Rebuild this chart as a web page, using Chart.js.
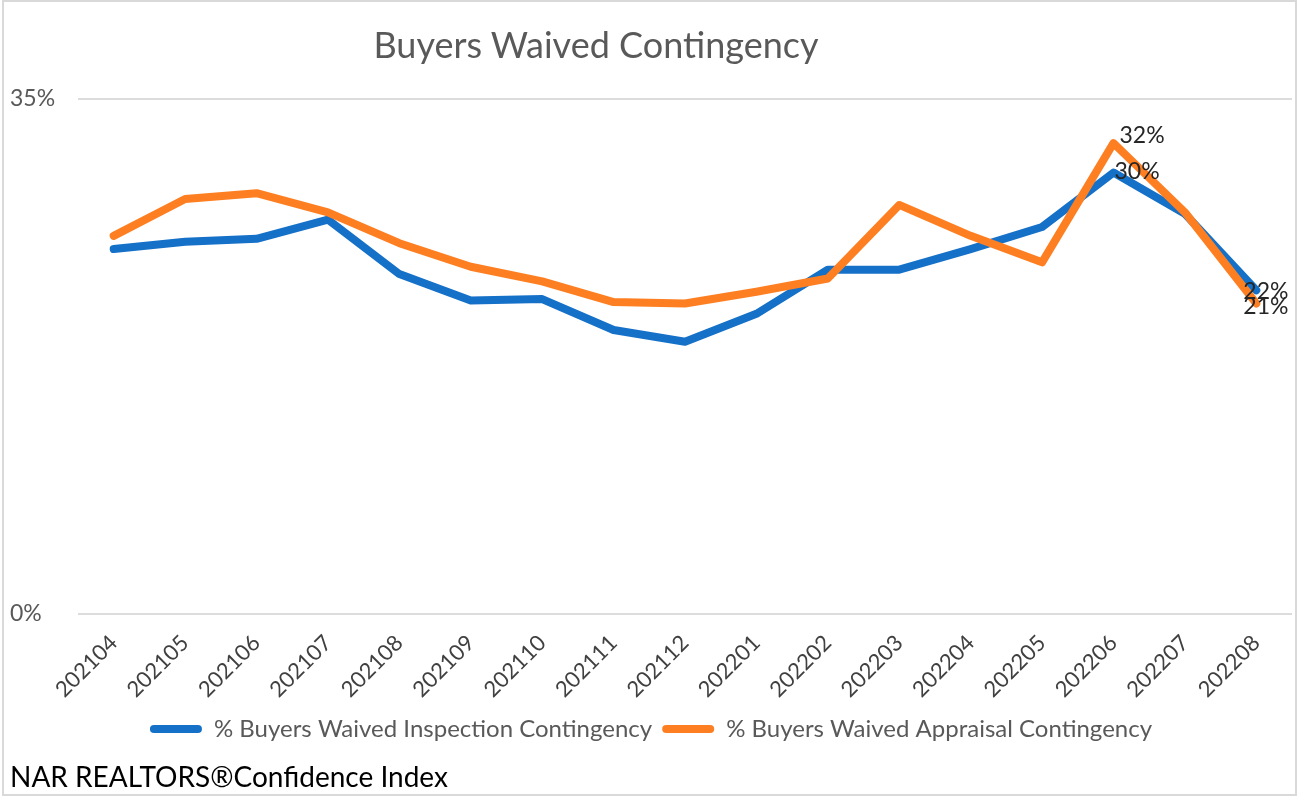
<!DOCTYPE html>
<html>
<head>
<meta charset="utf-8">
<title>Buyers Waived Contingency</title>
<script src="https://cdn.jsdelivr.net/npm/chart.js@4.4.1/dist/chart.umd.min.js"></script>
<style>
  html, body { margin: 0; padding: 0; background: #fff; }
  #wrap { position: relative; width: 1300px; height: 798px; overflow: hidden; }
  #frame {
    position: absolute; left: 2px; top: 0; width: 1295px; height: 796px;
    border: 2px solid #d9d9d9; box-sizing: border-box; pointer-events: none;
  }
  #title {
    position: absolute; top: 22px; left: 0; width: 1192px; text-align: center;
    font: 36px Lato, sans-serif; color: #595959;
  }
  #source {
    position: absolute; left: 10px; top: 759px;
    font: 28px Lato, sans-serif; color: #000;
  }
</style>
</head>
<body>
<div id="wrap">
  <canvas id="chart" width="1300" height="798"></canvas>
  <div id="title">Buyers Waived Contingency</div>
  <div id="source">NAR REALTORS®Confidence Index</div>
  <div id="frame"></div>
</div>
<script>
// ===============================
// DATA
// ===============================
const months = ['202104', '202105', '202106', '202107', '202108', '202109',
  '202110', '202111', '202112', '202201', '202202', '202203', '202204',
  '202205', '202206', '202207', '202208'];

// % Buyers Waived Inspection Contingency
const inspection = [24.8, 25.3, 25.5, 26.8, 23.1, 21.3, 21.4, 19.3, 18.5,
  20.4, 23.4, 23.4, 24.8, 26.3, 30.0, 27.2, 22.0];

// % Buyers Waived Appraisal Contingency
const appraisal = [25.7, 28.2, 28.6, 27.3, 25.2, 23.6, 22.6, 21.2, 21.1,
  21.9, 22.8, 27.8, 25.7, 23.9, 32.0, 27.3, 21.1];

const yTicks = [0, 35];

// points that carry a value label (202206 and 202208)
const labelIdx = [14, 16];

// ===============================
// VALUE LABELS
// ===============================
const pointLabels = {
  id: 'pointLabels',
  afterDatasetsDraw(chart, args, opts) {
    const ctx = chart.ctx;
    ctx.save();
    ctx.font = opts.font;
    ctx.fillStyle = opts.color;
    ctx.textAlign = 'left';
    ctx.textBaseline = 'middle';
    chart.data.datasets.forEach((ds, di) => {
      const meta = chart.getDatasetMeta(di);
      labelIdx.forEach((i, k) => {
        const pt = meta.data[i];
        const off = opts.offsets[di][k];
        ctx.fillText(Math.round(ds.data[i]) + '%', pt.x + off[0], pt.y + off[1]);
      });
    });
    ctx.restore();
  }
};

document.addEventListener('DOMContentLoaded', () => {
  const ctx = document.getElementById('chart');
  new Chart(ctx, {
    type: 'line',
    data: {
      labels: months,
      datasets: [
        {
          label: '% Buyers Waived Inspection Contingency',
          data: inspection,
          borderColor: '#1570c8',
          backgroundColor: '#1570c8',
          order: 1
        },
        {
          label: '% Buyers Waived Appraisal Contingency',
          data: appraisal,
          borderColor: '#fe7f22',
          backgroundColor: '#fe7f22',
          order: 0
        }
      ]
    },
    options: {
      responsive: false,
      animation: false,
      devicePixelRatio: 1,
      layout: {
        padding: { left: 10, right: 8, top: 99, bottom: 47 }
      },
      elements: {
        line: {
          borderWidth: 8,
          tension: 0,
          borderJoinStyle: 'round',
          borderCapStyle: 'round'
        },
        point: { radius: 0, hoverRadius: 0 }
      },
      plugins: {
        title: { display: false },
        tooltip: { enabled: false },
        legend: {
          position: 'bottom',
          labels: {
            sort: (a, b) => a.datasetIndex - b.datasetIndex,
            boxWidth: 52,
            boxHeight: 8,
            padding: 10,
            useBorderRadius: true,
            borderRadius: 4,
            color: '#595959',
            font: { family: 'Lato', size: 24 },
            generateLabels(chart) {
              const items = Chart.defaults.plugins.legend.labels.generateLabels(chart);
              return items.map(it => Object.assign(it, {
                fillStyle: it.strokeStyle,
                lineWidth: 0,
                borderRadius: 4
              }));
            }
          }
        },
        pointLabels: {
          font: '23px Lato',
          color: '#262626',
          offsets: [
            [[1, -1], [-13, 1]],
            [[6, -8], [-13, 3]]
          ]
        }
      },
      scales: {
        x: {
          offset: true,
          grid: { display: false, drawTicks: false },
          border: { display: false },
          afterFit(scale) { scale.height = 93; },
          ticks: {
            autoSkip: false,
            maxRotation: 45,
            minRotation: 45,
            padding: 16,
            color: '#404040',
            font: { family: 'Lato', size: 22 }
          }
        },
        y: {
          min: 0,
          max: 35,
          afterBuildTicks(scale) {
            scale.ticks = yTicks.map(v => ({ value: v }));
          },
          afterFit(scale) { scale.width = 68; },
          grid: { color: '#dcdcdc', lineWidth: 2, drawTicks: false },
          border: { display: false },
          ticks: {
            crossAlign: 'far',
            color: '#595959',
            font: { family: 'Lato', size: 23 },
            callback: v => v + '%'
          }
        }
      }
    },
    plugins: [pointLabels]
  });
});
</script>
</body>
</html>
